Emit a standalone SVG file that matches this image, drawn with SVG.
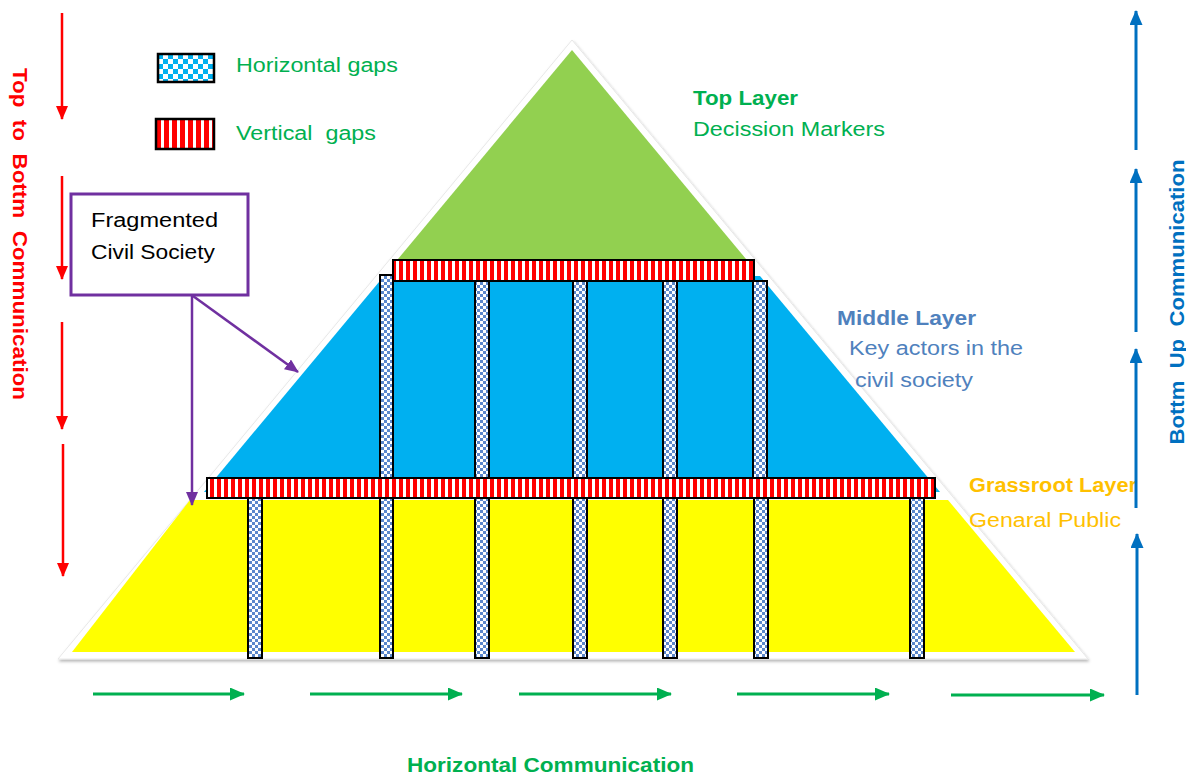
<svg xmlns="http://www.w3.org/2000/svg" width="1186" height="776" viewBox="0 0 1186 776">
<style>
  text { font-family: "Liberation Sans", Arial, sans-serif; font-size: 20px; white-space: pre; }
  .b { font-weight: bold; }
  .grn { fill: #00B050; }
  .mid { fill: #4F81BD; }
  .gr { fill: #FFC000; }
  .col { fill: url(#chk); stroke: #000; stroke-width: 2; }
  .bar { fill: url(#vstripe); stroke: #000; stroke-width: 2; }
  .red { stroke: #FF0000; stroke-width: 2.5; fill: none; marker-end: url(#mRed); }
  .blu { stroke: #0070C0; stroke-width: 3; fill: none; marker-end: url(#mBlue); }
  .gar { stroke: #00B050; stroke-width: 3; fill: none; marker-end: url(#mGreen); }
  .pur { stroke: #7030A0; stroke-width: 2.5; fill: none; marker-end: url(#mPurple); }
</style>
<defs>
  <pattern id="vstripe" width="7" height="10" patternUnits="userSpaceOnUse">
    <rect width="7" height="10" fill="#fff"/><rect width="4" height="10" fill="#FF0000"/>
  </pattern>
  <pattern id="vstripeL" width="8" height="10" patternUnits="userSpaceOnUse" x="156">
    <rect width="8" height="10" fill="#fff"/><rect width="5" height="10" fill="#FF0000"/>
  </pattern>
  <pattern id="chk" width="6" height="6" patternUnits="userSpaceOnUse">
    <rect width="6" height="6" fill="#fff"/><rect width="3" height="3" fill="#5B87CC"/><rect x="3" y="3" width="3" height="3" fill="#5B87CC"/>
  </pattern>
  <pattern id="chkL" width="10" height="10" patternUnits="userSpaceOnUse" x="158" y="54">
    <rect width="10" height="10" fill="#fff"/><rect width="5" height="5" fill="#00B0F0"/><rect x="5" y="5" width="5" height="5" fill="#00B0F0"/>
  </pattern>
  <marker id="mRed" markerUnits="userSpaceOnUse" markerWidth="14" markerHeight="12" refX="13" refY="6" orient="auto"><path d="M0,0 L14,6 L0,12 z" fill="#FF0000"/></marker>
  <marker id="mBlue" markerUnits="userSpaceOnUse" markerWidth="15" markerHeight="13" refX="14" refY="6.5" orient="auto"><path d="M0,0 L15,6.5 L0,13 z" fill="#0070C0"/></marker>
  <marker id="mGreen" markerUnits="userSpaceOnUse" markerWidth="15" markerHeight="13" refX="14" refY="6.5" orient="auto"><path d="M0,0 L15,6.5 L0,13 z" fill="#00B050"/></marker>
  <marker id="mPurple" markerUnits="userSpaceOnUse" markerWidth="14" markerHeight="12" refX="13" refY="6" orient="auto"><path d="M0,0 L14,6 L0,12 z" fill="#7030A0"/></marker>
  <filter id="sh" x="-5%" y="-5%" width="110%" height="110%">
    <feDropShadow dx="1" dy="2" stdDeviation="1.5" flood-color="#000" flood-opacity="0.3"/>
  </filter>
</defs>
<rect width="1186" height="776" fill="#fff"/>

<g id="pyramid">
  <polygon points="572,40 1088,659 58,659" fill="#fff" stroke="#e8e8e8" stroke-width="1" filter="url(#sh)"/>
  <polygon id="top-layer-shape" points="572,50 751,265 393,265" fill="#92D050"/>
  <polygon id="middle-layer-shape" points="384,276 760,276 940,492 204,492" fill="#00B0F0"/>
  <polygon id="grassroot-layer-shape" points="190,500 948,500 1075,652 72,652" fill="#FFFF00"/>
</g>

<g id="middle-gaps">
  <rect class="col" x="380" y="275" width="13" height="203"/>
  <rect class="col" x="475" y="281" width="14" height="197"/>
  <rect class="col" x="573" y="281" width="14" height="197"/>
  <rect class="col" x="663" y="281" width="14" height="197"/>
  <rect class="col" x="753" y="281" width="14" height="197"/>
</g>
<g id="top-vertical-gap">
  <rect class="bar" x="393" y="260" width="361" height="21"/>
</g>
<g id="grassroot-gaps">
  <rect class="col" x="248" y="495" width="14" height="163"/>
  <rect class="col" x="380" y="495" width="13" height="163"/>
  <rect class="col" x="475" y="495" width="14" height="163"/>
  <rect class="col" x="573" y="495" width="14" height="163"/>
  <rect class="col" x="663" y="495" width="14" height="163"/>
  <rect class="col" x="754" y="495" width="14" height="163"/>
  <rect class="col" x="910" y="495" width="14" height="163"/>
</g>
<g id="bottom-vertical-gap">
  <rect class="bar" x="207" y="478" width="728" height="20"/>
</g>

<g id="legend">
  <rect x="158" y="54" width="56" height="28" fill="url(#chkL)" stroke="#000" stroke-width="2.5"/>
  <text class="grn" x="236" y="72" textLength="162" lengthAdjust="spacingAndGlyphs">Horizontal gaps</text>
  <rect x="156" y="119" width="58" height="30" fill="url(#vstripeL)" stroke="#000" stroke-width="2.5"/>
  <text class="grn" x="236" y="140" textLength="140" lengthAdjust="spacingAndGlyphs">Vertical  gaps</text>
</g>

<g id="label-top">
  <text class="grn b" x="693" y="105" textLength="105" lengthAdjust="spacingAndGlyphs">Top Layer</text>
  <text class="grn" x="693" y="136" textLength="192" lengthAdjust="spacingAndGlyphs">Decission Markers</text>
</g>
<g id="label-middle">
  <text class="mid b" x="837" y="325" textLength="139" lengthAdjust="spacingAndGlyphs">Middle Layer</text>
  <text class="mid" x="849" y="355" textLength="174" lengthAdjust="spacingAndGlyphs">Key actors in the</text>
  <text class="mid" x="855" y="387" textLength="118" lengthAdjust="spacingAndGlyphs">civil society</text>
</g>
<g id="label-grassroot">
  <text class="gr b" x="969" y="492" textLength="168" lengthAdjust="spacingAndGlyphs">Grassroot Layer</text>
  <text class="gr" x="969" y="527" textLength="152" lengthAdjust="spacingAndGlyphs">Genaral Public</text>
</g>

<g id="fragmented-box">
  <rect x="71" y="194" width="177" height="101" fill="#fff" stroke="#7030A0" stroke-width="3"/>
  <text x="91" y="227" fill="#000" textLength="127" lengthAdjust="spacingAndGlyphs">Fragmented</text>
  <text x="91" y="259" fill="#000" textLength="124" lengthAdjust="spacingAndGlyphs">Civil Society</text>
</g>

<g id="label-top-bottom">
  <text class="b" fill="#FF0000" transform="translate(13,234) rotate(90)" text-anchor="middle" textLength="332" lengthAdjust="spacingAndGlyphs">Top  to  Bottm  Communication</text>
</g>
<g id="label-bottom-up">
  <text class="b" fill="#0070C0" transform="translate(1184,302) rotate(-90)" text-anchor="middle" textLength="285" lengthAdjust="spacingAndGlyphs">Bottm  Up  Communication</text>
</g>
<g id="label-horizontal">
  <text class="grn b" x="407" y="772" textLength="287" lengthAdjust="spacingAndGlyphs">Horizontal Communication</text>
</g>

<g id="connectors">
  <line class="pur" x1="192" y1="296" x2="192" y2="505"/>
  <line class="pur" x1="193" y1="296" x2="298" y2="372"/>

  <line class="red" x1="62" y1="13" x2="62" y2="119"/>
  <line class="red" x1="62" y1="176" x2="62" y2="279"/>
  <line class="red" x1="62" y1="322" x2="62" y2="429"/>
  <line class="red" x1="63" y1="444" x2="63" y2="576"/>

  <line class="blu" x1="1136" y1="150" x2="1136" y2="11"/>
  <line class="blu" x1="1136" y1="332" x2="1136" y2="169"/>
  <line class="blu" x1="1136" y1="508" x2="1136" y2="349"/>
  <line class="blu" x1="1137" y1="695" x2="1137" y2="534"/>

  <line class="gar" x1="93" y1="694" x2="244" y2="694"/>
  <line class="gar" x1="310" y1="694" x2="462" y2="694"/>
  <line class="gar" x1="519" y1="694" x2="671" y2="694"/>
  <line class="gar" x1="737" y1="694" x2="889" y2="694"/>
  <line class="gar" x1="951" y1="695" x2="1104" y2="695"/>
</g>
</svg>
